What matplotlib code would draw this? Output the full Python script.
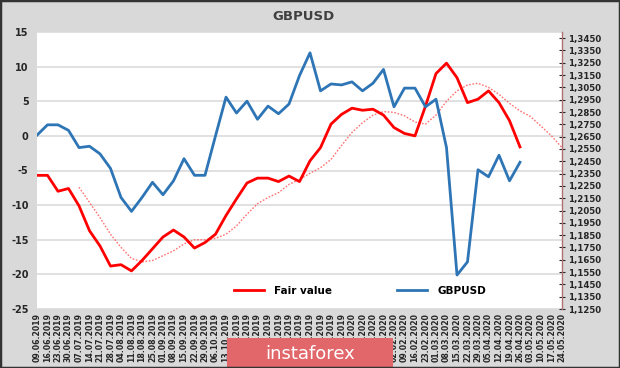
import numpy as np
import matplotlib.pyplot as plt
from matplotlib.lines import Line2D
from matplotlib.patches import Rectangle, FancyBboxPatch
from matplotlib.ticker import FuncFormatter

# Dates hebdomadaires (axe x)
dates = ['09.06.2019', '16.06.2019', '23.06.2019', '30.06.2019', '07.07.2019',
         '14.07.2019', '21.07.2019', '28.07.2019', '04.08.2019', '11.08.2019',
         '18.08.2019', '25.08.2019', '01.09.2019', '08.09.2019', '15.09.2019',
         '22.09.2019', '29.09.2019', '06.10.2019', '13.10.2019', '20.10.2019',
         '27.10.2019', '03.11.2019', '10.11.2019', '17.11.2019', '24.11.2019',
         '01.12.2019', '08.12.2019', '15.12.2019', '22.12.2019', '29.12.2019',
         '05.01.2020', '12.01.2020', '19.01.2020', '26.01.2020', '02.02.2020',
         '09.02.2020', '16.02.2020', '23.02.2020', '01.03.2020', '08.03.2020',
         '15.03.2020', '22.03.2020', '29.03.2020', '05.04.2020', '12.04.2020',
         '19.04.2020', '26.04.2020', '03.05.2020', '10.05.2020', '17.05.2020',
         '24.05.2020']

# Fair value (axe gauche)
fair_value = [-5.7, -5.7, -8.0, -7.6, -10.1, -13.7, -15.9, -18.8, -18.6, -19.5,
              -18.0, -16.3, -14.6, -13.6, -14.6, -16.2, -15.4, -14.2, -11.5, -9.1,
              -6.8, -6.1, -6.1, -6.6, -5.8, -6.6, -3.6, -1.7, 1.7, 3.1,
              4.0, 3.7, 3.85, 3.0, 1.2, 0.35, 0.0, 4.3, 9.0, 10.5,
              8.4, 4.8, 5.3, 6.5, 4.8, 2.2, -1.6]

# Courbe pointillée (commence au 07.07.2019)
dotted_start = 4
fair_dotted = [-7.4, -9.6, -11.8, -14.2, -16.1, -17.7, -18.2, -18.0, -17.3, -16.6,
               -15.6, -15.0, -15.0, -14.8, -14.2, -13.0, -11.3, -9.8, -8.9, -8.2,
               -7.0, -6.3, -5.4, -4.6, -3.4, -1.4, 0.5, 1.9, 3.0, 3.5,
               3.4, 2.9, 2.0, 1.7, 3.0, 5.0, 6.5, 7.35, 7.6, 7.0,
               6.0, 4.7, 3.6, 2.8, 1.4, 0.0, -1.7]

# GBPUSD (axe droit)
gbpusd = [1.2662, 1.2746, 1.2746, 1.2701, 1.2561, 1.2572, 1.2510, 1.2392, 1.2156, 1.2043,
          1.2156, 1.2279, 1.2178, 1.2291, 1.2471, 1.2336, 1.2336, 1.2656, 1.2971, 1.2842,
          1.2938, 1.2791, 1.2898, 1.2836, 1.2915, 1.3146, 1.3331, 1.3022, 1.3078, 1.3070,
          1.3095, 1.3022, 1.3084, 1.3196, 1.2892, 1.3044, 1.3044, 1.2892, 1.2954, 1.2561,
          1.1526, 1.1633, 1.2381, 1.2324, 1.2499, 1.2291, 1.2442]

left_ticks = [-25, -20, -15, -10, -5, 0, 5, 10, 15]
right_ticks = [1.125 + 0.01 * k for k in range(23)]

bg = '#d9d9d9'
fig = plt.figure(figsize=(6.2, 3.68), dpi=100, facecolor=bg)
ax = fig.add_axes([37 / 620, 59 / 368, 525 / 620, 277 / 368])
ax.set_facecolor('white')

x = np.arange(len(dates))
ax.plot(x[:len(fair_value)], fair_value, color='#ff0000', lw=2, zorder=3)
ax.plot(x[dotted_start:dotted_start + len(fair_dotted)], fair_dotted,
        color='#ff5050', lw=1, ls=(0, (1.2, 1.2)), alpha=0.8, zorder=2)

ax.set_xlim(0, len(dates) - 1)
ax.set_ylim(-25, 15)
ax.set_yticks(left_ticks)
ax.set_yticklabels([str(t) for t in left_ticks], fontsize=7, fontweight='bold',
                   color='#262626')
ax.yaxis.grid(True, color='#dcdcdc', lw=1.2)
ax.set_axisbelow(True)
ax.tick_params(axis='y', length=0, pad=6)
ax.set_xticks(x)
ax.set_xticklabels(dates, rotation=90, fontsize=5.6, fontweight='bold',
                   color='#262626')
ax.tick_params(axis='x', length=0, pad=3)
for s in ax.spines.values():
    s.set_visible(False)

ax2 = ax.twinx()
ax2.plot(x[:len(gbpusd)], gbpusd, color='#2e75b6', lw=2, zorder=3)
ax2.set_ylim(1.125, 1.35)
ax2.set_yticks(right_ticks)
ax2.yaxis.set_major_formatter(FuncFormatter(lambda v, p: f'{v:.4f}'.replace('.', ',')))
ax2.tick_params(axis='y', labelsize=6.2, colors='#262626', direction='inout',
                length=4, width=0.8, pad=2)
for lab in ax2.get_yticklabels():
    lab.set_fontweight('bold')
for s in ['left', 'top', 'bottom']:
    ax2.spines[s].set_visible(False)
ax2.spines['right'].set_color('#b07070')
ax2.spines['right'].set_linewidth(1)
for t in ax2.yaxis.get_ticklines():
    t.set_color('#b07070')

handles = [Line2D([], [], color='#ff0000', lw=2),
           Line2D([], [], color='#2e75b6', lw=2)]
leg = ax2.legend(handles, ['Fair value', 'GBPUSD'], ncol=2, loc='center',
                 bbox_to_anchor=(0.615, 0.065), frameon=False,
                 prop={'size': 7.5, 'weight': 'bold'}, handlelength=2.9,
                 columnspacing=6.2, handletextpad=1.0)

fig.text(0.49, 0.955, 'GBPUSD', ha='center', va='center', fontsize=9.5,
         fontweight='bold', color='#404040')

# filigrane instaforex
fig.patches.append(Rectangle((227 / 620, 0), 166 / 620, 30 / 368,
                             transform=fig.transFigure, facecolor='#e2676b',
                             edgecolor='none', zorder=5))
fig.text(310 / 620, 14 / 368, 'instaforex', ha='center', va='center',
         fontsize=13, color='white', zorder=6)

# cadre
fig.patches.append(Rectangle((0, 0), 1, 1, transform=fig.transFigure,
                             fill=False, edgecolor='#333333', lw=2.5, zorder=10))

plt.savefig('out.png', dpi=100, facecolor=bg)
plt.close()
